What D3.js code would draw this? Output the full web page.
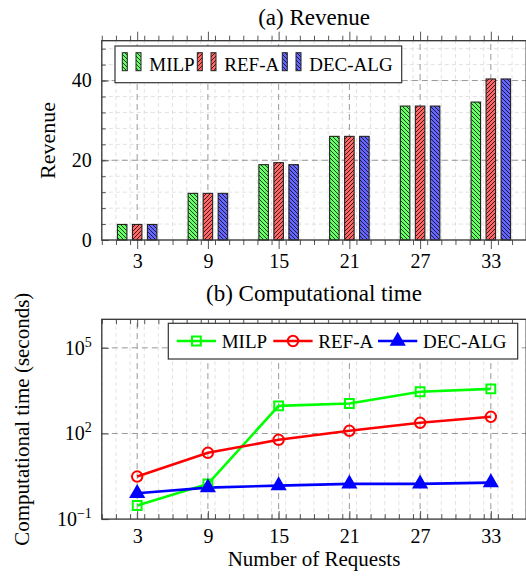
<!DOCTYPE html>
<html>
<head>
<meta charset="utf-8">
<script src="https://cdn.jsdelivr.net/npm/d3@7"></script>
<style>
  body { margin: 0; background: #fff; }
  svg text { font-family: "Liberation Serif", "Times New Roman", Times, serif; fill: #000; }
</style>
</head>
<body>
<svg width="526" height="576"></svg>
<script>
// data
const requests = [3, 9, 15, 21, 27, 33];
const seriesNames = ["MILP", "REF-A", "DEC-ALG"];

const revMILP = [3.9, 11.7, 18.9, 26.0, 33.6, 34.6];
const revREFA = [3.9, 11.7, 19.4, 26.0, 33.6, 40.4];
const revDEC  = [3.9, 11.7, 18.9, 26.0, 33.6, 40.4];

const timeMILP = [0.3, 1.7, 930, 1120, 2900, 3650];
const timeREFA = [3.1, 21, 60, 124, 237, 385];
const timeDEC  = [0.8, 1.27, 1.49, 1.71, 1.71, 1.9];

const revTicks = [0, 20, 40];
const timeTicks = [1e-1, 1e2, 1e5];

const FONT = "'Liberation Serif', 'Times New Roman', Times, serif";
const svg = d3.select("svg");

const barFill = ["#66ff66", "#ff6666", "#6666ff"];
const lineColor = ["#00ff00", "#ff0000", "#0000ff"];
const hatch = ["nw", "ne", "nw"];

// hatch patterns
const defs = svg.append("defs");
seriesNames.forEach((s, i) => {
  const p = defs.append("pattern")
    .attr("id", "pat" + i)
    .attr("patternUnits", "userSpaceOnUse")
    .attr("width", 4).attr("height", 4);
  p.append("rect").attr("width", 4).attr("height", 4).attr("fill", barFill[i]);
  p.append("path")
    .attr("d", hatch[i] === "nw"
      ? "M0,0L4,4M-1,3L1,5M3,-1L5,1"
      : "M0,4L4,0M-1,1L1,-1M3,5L5,3")
    .attr("stroke", "#000").attr("stroke-width", 0.75);
});

const x = d3.scaleLinear().domain([0, 36]).range([101.8, 526.2]);
const minorX = d3.range(0, 36.01, 1.2);

function grid(g, xs, ys, yScale, color, dash) {
  g.selectAll(null).data(xs).enter().append("line")
    .attr("x1", d => x(d)).attr("x2", d => x(d))
    .attr("y1", yScale.range()[0]).attr("y2", yScale.range()[1])
    .attr("stroke", color).attr("stroke-dasharray", dash);
  g.selectAll(null).data(ys).enter().append("line")
    .attr("x1", x.range()[0]).attr("x2", x.range()[1])
    .attr("y1", d => yScale(d)).attr("y2", d => yScale(d))
    .attr("stroke", color).attr("stroke-dasharray", dash);
}

function styleAxis(g, size) {
  g.attr("font-family", FONT);
  g.select(".domain").remove();
  g.selectAll(".tick line").attr("stroke", "#555");
  g.selectAll("text").attr("font-family", FONT).attr("font-size", size).attr("fill", "#000");
}

// ---------------- (a) Revenue ----------------
const yRev = d3.scaleLinear().domain([0, 50]).range([240, 40.7]);
const minorRev = d3.range(0, 50, 4);

const gA = svg.append("g");
grid(gA, minorX, minorRev, yRev, "#e2e2e2", "4,3");
grid(gA, requests, revTicks.filter(d => d > 0), yRev, "#999", "6,4");

// x ticks, outside
gA.append("g").attr("transform", `translate(0,${yRev(0)})`)
  .call(d3.axisBottom(x).tickValues(minorX).tickSize(5).tickFormat(""))
  .call(g => styleAxis(g, 20));
gA.append("g").attr("transform", `translate(0,${yRev(50)})`)
  .call(d3.axisTop(x).tickValues(minorX).tickSize(5).tickFormat(""))
  .call(g => styleAxis(g, 20));
gA.append("g").attr("transform", `translate(0,${yRev(50)})`)
  .call(d3.axisTop(x).tickValues(requests).tickSize(9).tickFormat(""))
  .call(g => styleAxis(g, 20));
gA.append("g").attr("transform", `translate(0,${yRev(0)})`)
  .call(d3.axisBottom(x).tickValues(requests).tickSize(9).tickPadding(5))
  .call(g => styleAxis(g, 20));

// y ticks, inside
gA.append("g").attr("transform", `translate(${x(0)},0)`)
  .call(d3.axisLeft(yRev).tickValues(minorRev).tickSize(-4).tickFormat(""))
  .call(g => styleAxis(g, 20));
gA.append("g").attr("transform", `translate(${x(0)},0)`)
  .call(d3.axisLeft(yRev).tickValues(revTicks).tickSize(-7).tickPadding(10))
  .call(g => styleAxis(g, 20));

// bars
const inner = d3.scalePoint().domain(seriesNames).range([-15, 15]);
const barW = 9.5;
const revSeries = [revMILP, revREFA, revDEC];
revSeries.forEach((vals, i) => {
  gA.selectAll(null).data(vals).enter().append("rect")
    .attr("x", (d, j) => x(requests[j]) + inner(seriesNames[i]) - barW / 2)
    .attr("y", d => yRev(d))
    .attr("width", barW)
    .attr("height", d => yRev(0) - yRev(d))
    .attr("fill", `url(#pat${i})`)
    .attr("stroke", "#222").attr("stroke-width", 1.1);
});

gA.append("rect")
  .attr("x", x(0)).attr("y", yRev(50))
  .attr("width", x(36) - x(0)).attr("height", yRev(0) - yRev(50))
  .attr("fill", "none").attr("stroke", "#333").attr("stroke-width", 1.3);

// legend (a)
const legA = gA.append("g");
legA.append("rect").attr("x", 115).attr("y", 46).attr("width", 286.7).attr("height", 36.7)
  .attr("fill", "#fff").attr("stroke", "#333").attr("stroke-width", 1.2);
const legAx = [122.3, 197.3, 282.3];
seriesNames.forEach((s, i) => {
  [0, 13.7].forEach(off => {
    legA.append("rect").attr("x", legAx[i] + off).attr("y", 52.7)
      .attr("width", 5).attr("height", 18)
      .attr("fill", `url(#pat${i})`).attr("stroke", "#222").attr("stroke-width", 1);
  });
  legA.append("text").attr("x", legAx[i] + 27).attr("y", 70.5)
    .attr("font-size", 19).text(s);
});

svg.append("text").attr("x", 314).attr("y", 25).attr("text-anchor", "middle")
  .attr("font-size", 23).text("(a) Revenue");
svg.append("text").attr("transform", "translate(55,140.4) rotate(-90)")
  .attr("text-anchor", "middle").attr("font-size", 22).text("Revenue");

// ---------------- (b) Computational time ----------------
const yT = d3.scaleLog().domain([1e-1, 1e6]).range([519.1, 319.3]);

const gB = svg.append("g");
grid(gB, minorX, [], yT, "#e2e2e2", "4,3");
grid(gB, requests, timeTicks.filter(d => d > 1e-1), yT, "#999", "6,4");

gB.append("g").attr("transform", `translate(0,${yT.range()[0]})`)
  .call(d3.axisBottom(x).tickValues(minorX).tickSize(-5).tickFormat(""))
  .call(g => styleAxis(g, 20));
gB.append("g").attr("transform", `translate(0,${yT.range()[1]})`)
  .call(d3.axisTop(x).tickValues(minorX).tickSize(-5).tickFormat(""))
  .call(g => styleAxis(g, 20));
gB.append("g").attr("transform", `translate(0,${yT.range()[1]})`)
  .call(d3.axisTop(x).tickValues(requests).tickSize(-8).tickFormat(""))
  .call(g => styleAxis(g, 20));
gB.append("g").attr("transform", `translate(0,${yT.range()[0]})`)
  .call(d3.axisBottom(x).tickValues(requests).tickSize(-8).tickPadding(10))
  .call(g => styleAxis(g, 20));

gB.append("g").attr("transform", `translate(${x(0)},0)`)
  .call(d3.axisLeft(yT).tickValues(timeTicks).tickSize(-7).tickPadding(10).tickFormat(""))
  .call(g => styleAxis(g, 20))
  .call(g => g.selectAll(".tick").each(function (d) {
    const t = d3.select(this).select("text");
    t.append("tspan").text("10");
    t.append("tspan").attr("dy", -8).attr("font-size", 14).text(Math.round(Math.log10(d)).toString().replace("-", "\u2212"));
  }));

const timeSeries = [timeMILP, timeREFA, timeDEC];
const line = d3.line().x((d, j) => x(requests[j])).y(d => yT(d));
timeSeries.forEach((vals, i) => {
  gB.append("path").datum(vals).attr("d", line)
    .attr("fill", "none").attr("stroke", lineColor[i]).attr("stroke-width", 2.6);
});

const symSquare = d3.symbol().type(d3.symbolSquare).size(78);
const symCircle = d3.symbol().type(d3.symbolCircle).size(85);
const symTri = d3.symbol().type(d3.symbolTriangle).size(70);
const markerDefs = [
  { sym: symSquare, fill: "none" },
  { sym: symCircle, fill: "none" },
  { sym: symTri, fill: lineColor[2] }
];
timeSeries.forEach((vals, i) => {
  gB.selectAll(null).data(vals).enter().append("path")
    .attr("d", markerDefs[i].sym())
    .attr("transform", (d, j) => `translate(${x(requests[j])},${yT(d)})`)
    .attr("fill", markerDefs[i].fill).attr("stroke", lineColor[i]).attr("stroke-width", 2);
});

gB.append("rect")
  .attr("x", x(0)).attr("y", yT.range()[1])
  .attr("width", x(36) - x(0)).attr("height", yT.range()[0] - yT.range()[1])
  .attr("fill", "none").attr("stroke", "#333").attr("stroke-width", 1.3);

// legend (b)
const legB = gB.append("g");
legB.append("rect").attr("x", 168.3).attr("y", 323.3).attr("width", 349.4).attr("height", 35.7)
  .attr("fill", "#fff").attr("stroke", "#333").attr("stroke-width", 1.2);
const legBx = [176.7, 273.3, 378];
seriesNames.forEach((s, i) => {
  legB.append("line").attr("x1", legBx[i]).attr("x2", legBx[i] + 39.3)
    .attr("y1", 341).attr("y2", 341).attr("stroke", lineColor[i]).attr("stroke-width", 2.6);
  legB.append("path").attr("d", markerDefs[i].sym())
    .attr("transform", `translate(${legBx[i] + 19.7},341)`)
    .attr("fill", markerDefs[i].fill).attr("stroke", lineColor[i]).attr("stroke-width", 2);
  legB.append("text").attr("x", legBx[i] + 45).attr("y", 347.5)
    .attr("font-size", 19).text(s);
});

svg.append("text").attr("x", 314).attr("y", 301).attr("text-anchor", "middle")
  .attr("font-size", 23).text("(b) Computational time");
svg.append("text").attr("transform", "translate(29,419.2) rotate(-90)")
  .attr("text-anchor", "middle").attr("font-size", 21).text("Computational time (seconds)");
svg.append("text").attr("x", 314).attr("y", 566).attr("text-anchor", "middle")
  .attr("font-size", 21).text("Number of Requests");
</script>
</body>
</html>
